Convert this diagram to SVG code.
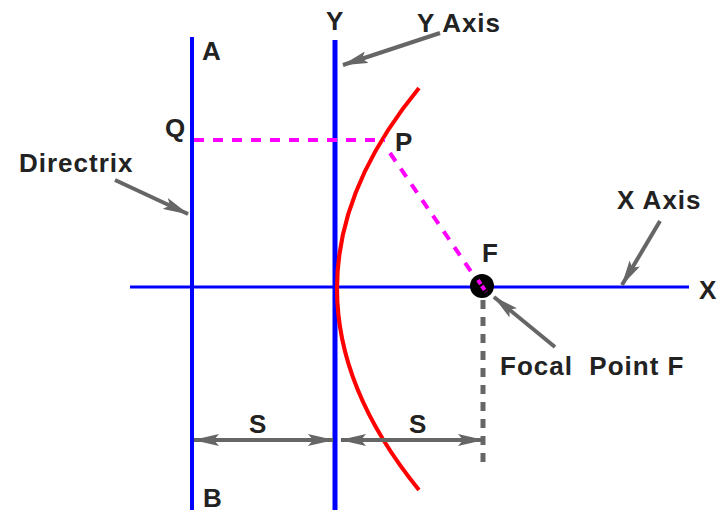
<svg xmlns="http://www.w3.org/2000/svg" width="727" height="513" viewBox="0 0 727 513">
<defs>
<marker id="ah" viewBox="0 0 26 12" refX="25" refY="6" markerWidth="26" markerHeight="12" markerUnits="userSpaceOnUse" orient="auto-start-reverse">
<path d="M0,0 L26,6 L0,12 L5,6 Z" fill="#666"/>
</marker>
</defs>
<style>
.lbl{font-family:"Liberation Sans",Arial,sans-serif;font-weight:bold;font-size:26px;letter-spacing:1px;fill:#222}
.axis{stroke:#0000ff;fill:none}
.ptr{stroke:#666;stroke-width:4;fill:none}
.mag{stroke:#ff00ff;stroke-width:4;fill:none;stroke-dasharray:10 9}
</style>
<rect width="727" height="513" fill="#fff"/>
<g id="directrix"><line class="axis" x1="192" y1="37" x2="192" y2="510" stroke-width="4"/></g>
<g id="y-axis"><line class="axis" x1="335" y1="40" x2="335" y2="510" stroke-width="5"/></g>
<g id="x-axis"><line class="axis" x1="130" y1="287" x2="689" y2="287" stroke-width="3"/></g>
<g id="parabola"><path d="M419,88 Q255,288 419,490" stroke="#ff0000" stroke-width="4" fill="none"/></g>
<g id="connectors">
<line class="mag" x1="194" y1="140" x2="385" y2="140"/>
<line class="mag" x1="390" y1="153" x2="481" y2="286" stroke-dasharray="8 10"/>
<line x1="483" y1="300" x2="483" y2="463" stroke="#666" stroke-width="5" stroke-dasharray="9 8"/>
<line class="ptr" x1="440" y1="33" x2="343" y2="65" marker-end="url(#ah)"/>
<line class="ptr" x1="115" y1="180" x2="188" y2="214" marker-end="url(#ah)"/>
<line class="ptr" x1="660" y1="221" x2="622" y2="285" marker-end="url(#ah)"/>
<line class="ptr" x1="555" y1="347" x2="494" y2="297" marker-end="url(#ah)"/>
<line class="ptr" x1="194" y1="440" x2="333" y2="440" marker-start="url(#ah)" marker-end="url(#ah)"/>
<line class="ptr" x1="341" y1="440" x2="483" y2="440" marker-start="url(#ah)" marker-end="url(#ah)"/>
</g>
<g id="focus"><circle cx="482" cy="286" r="12" fill="#000"/><line x1="478" y1="280" x2="486" y2="292" stroke="#ff00ff" stroke-width="4" stroke-dasharray="5 2"/></g>
<g id="labels">
<text class="lbl" x="202" y="60">A</text>
<text class="lbl" x="326" y="30">Y</text>
<text class="lbl" x="417" y="32">Y Axis</text>
<text class="lbl" x="165" y="137">Q</text>
<text class="lbl" x="19" y="172">Directrix</text>
<text class="lbl" x="395" y="151">P</text>
<text class="lbl" x="482" y="262">F</text>
<text class="lbl" x="617" y="209">X Axis</text>
<text class="lbl" x="699" y="299">X</text>
<text class="lbl" x="500" y="375" xml:space="preserve">Focal  Point F</text>
<text class="lbl" x="249" y="433">S</text>
<text class="lbl" x="409" y="433">S</text>
<text class="lbl" x="203" y="507">B</text>
</g>
</svg>
